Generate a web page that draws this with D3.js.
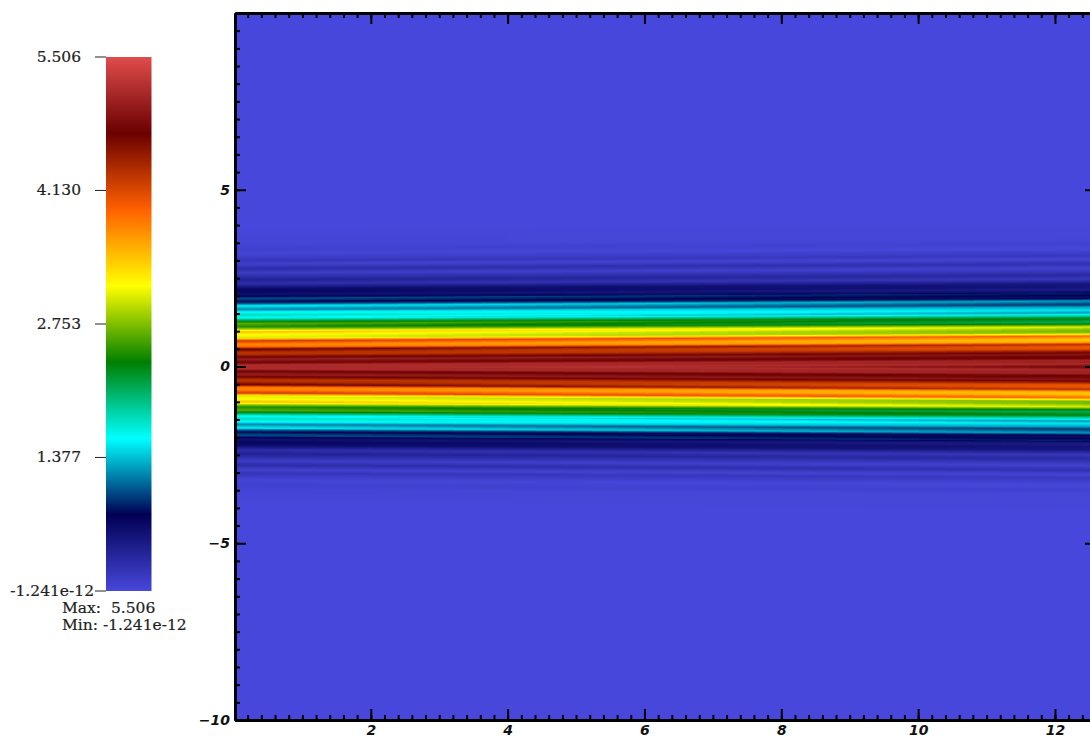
<!DOCTYPE html>
<html><head><meta charset="utf-8">
<style>html,body{margin:0;padding:0;background:#fff;overflow:hidden}svg{display:block}
.c text{font-family:"DejaVu Serif";font-size:15.5px;fill:#222;stroke:#222;stroke-width:0.2px}
.a text{font-family:"DejaVu Sans";font-weight:bold;font-style:italic;font-size:14px;fill:#111}</style>
<script src="https://cdn.jsdelivr.net/npm/d3@7"></script></head><body><svg id="s" width="1090" height="740"></svg>
<script>
const barLabels=["5.506","4.130","2.753","1.377","-1.241e-12"];
const barValues=[5.506,4.130,2.753,1.377,0];
const colorStops=[0,0.787,1.573,2.36,3.146,3.933,4.72,5.506];
const colorValues=["#4747db","#000054","#00ffff","#007f00","#ffff00","#ff6000","#6b0000","#e04c4c"];
const xTicks=[2,4,6,8,10,12];
const yTicks=[-10,-5,0,5];
// left-edge profile: distance from centre line -> field value
const bandY=[0,0.05,0.12,0.22,0.28,0.36,0.42,0.50,0.57,0.64,0.74,0.77,0.83,0.91,0.99,1.06,1.13,1.23,1.33,1.39,1.46,1.56,1.62,1.73,1.78,1.84,1.89,1.95,1.98,2.05,2.12,2.21,2.35,2.46,2.66,2.78,2.91,3.00,3.20,3.35,3.50,3.70,3.90,4.30];
const bandV=[5.15,5.2,4.75,5.05,4.7,4.3,4.35,4.75,3.85,3.75,4.25,3.7,3.05,3.15,3.5,2.9,2.45,2.65,2.0,1.55,1.8,1.55,1.2,1.55,1.1,0.8,0.95,1.05,0.8,0.62,0.72,0.68,0.28,0.42,0.12,0.3,0.07,0.2,0.03,0.07,0.02,0.02,0,0];
// smooth envelope under the ripples
const envY=[0,0.45,0.65,0.95,1.2,1.55,1.85,2.1,2.4,2.7,3.0,3.3,3.8,4.3];
const envV=[4.85,4.5,3.9,3.2,2.4,1.6,1.0,0.7,0.4,0.2,0.1,0.04,0,0];
// outward drift of the ripples per unit of x
const drift=0.011;
const yCentre=-0.01;

const svg=d3.select("#s"),defs=svg.append("defs");
const x=d3.scaleLinear([0.015,12.6],[235,1096]);
const y=d3.scaleLinear([-10,10],[720,13]);
const color=d3.scaleLinear(colorStops,colorValues);
const bar=d3.scaleLinear([0,5.506],[591,57]);
const prof=d3.scaleLinear(bandY,bandV).clamp(true);
const env=d3.scaleLinear(envY,envV).clamp(true);
const field=(d,xv)=>{const s=Math.abs(Math.abs(d)-drift*xv);return Math.max(0,env(Math.abs(d))+prof(s)-env(s));};

// field: one column per 0.4 of x, one stop per pixel of y
const colEdges=d3.range(0.015,12.6,0.4);
const rows=d3.range(-4.4,4.4001,0.0283);
colEdges.forEach((c,i)=>{
  const g=defs.append("linearGradient").attr("id","col"+i).attr("gradientUnits","userSpaceOnUse")
    .attr("x1",0).attr("x2",0).attr("y1",0).attr("y2",740);
  g.selectAll("stop").data(rows.slice().reverse()).join("stop")
    .attr("offset",d=>y(yCentre+d)/740).attr("stop-color",d=>color(field(d,c+0.2)));
});
svg.append("g").attr("shape-rendering","crispEdges").selectAll("rect").data(colEdges).join("rect")
  .attr("x",d=>Math.round(x(d))).attr("width",d=>Math.round(x(d+0.4))-Math.round(x(d))).attr("y",y(10)).attr("height",y(-10)-y(10))
  .attr("fill",(d,i)=>`url(#col${i})`);

// axes
const minorX=d3.range(0.2,12.7,0.2),minorY=d3.range(-9.5,10,0.5);
function ax(gen,t){const g=svg.append("g").attr("class","a").attr("transform",t).call(gen);g.selectAll(".domain").attr("stroke","#000").attr("stroke-width",3);g.selectAll(".tick line").attr("stroke","#000").attr("stroke-width",2);return g;}
const f=d=>String(d).replace("-","\u2212");
ax(d3.axisBottom(x).tickValues(minorX).tickSize(-5).tickFormat("").tickSizeOuter(0),`translate(0,${y(-10)})`);
ax(d3.axisBottom(x).tickValues(xTicks).tickSize(-11).tickFormat(f).tickSizeOuter(0),`translate(0,${y(-10)})`).selectAll("text").attr("y",5);
ax(d3.axisTop(x).tickValues(minorX).tickSize(-5).tickFormat("").tickSizeOuter(0),`translate(0,${y(10)})`);
ax(d3.axisTop(x).tickValues(xTicks).tickSize(-11).tickFormat("").tickSizeOuter(0),`translate(0,${y(10)})`);
ax(d3.axisLeft(y).tickValues(minorY).tickSize(-5).tickFormat("").tickSizeOuter(0),`translate(${x(0.015)},0)`);
ax(d3.axisLeft(y).tickValues(yTicks).tickSize(-11).tickPadding(5).tickFormat(f).tickSizeOuter(0),`translate(${x(0.015)},0)`);
ax(d3.axisRight(y).tickValues(minorY).tickSize(-5).tickFormat("").tickSizeOuter(0),`translate(1096,0)`);
ax(d3.axisRight(y).tickValues(yTicks).tickSize(-11).tickFormat("").tickSizeOuter(0),`translate(1096,0)`);

// colour bar
const bg=defs.append("linearGradient").attr("id","bar").attr("gradientUnits","userSpaceOnUse").attr("x1",0).attr("x2",0).attr("y1",bar(0)).attr("y2",bar(5.506));
bg.selectAll("stop").data(colorStops).join("stop").attr("offset",d=>d/5.506).attr("stop-color",d=>color(d));
const cb=svg.append("g").attr("class","c");
cb.append("rect").attr("x",106).attr("width",45.5).attr("y",bar(5.506)).attr("height",bar(0)-bar(5.506)).attr("fill","url(#bar)");
cb.selectAll("line").data(barValues).join("line").attr("x1",95).attr("x2",106).attr("y1",d=>bar(d)).attr("y2",d=>bar(d)).attr("stroke","#222").attr("stroke-width",1);
cb.selectAll("text.l").data(barValues).join("text").attr("class","l").attr("x",(d,i)=>i==4?94:81).attr("y",d=>bar(d)+5).attr("text-anchor","end").text((d,i)=>barLabels[i]);
cb.append("text").attr("x",62).attr("y",613).attr("xml:space","preserve").text("Max:  5.506");
cb.append("text").attr("x",62).attr("y",630).attr("xml:space","preserve").text("Min: -1.241e-12");
</script></body></html>
